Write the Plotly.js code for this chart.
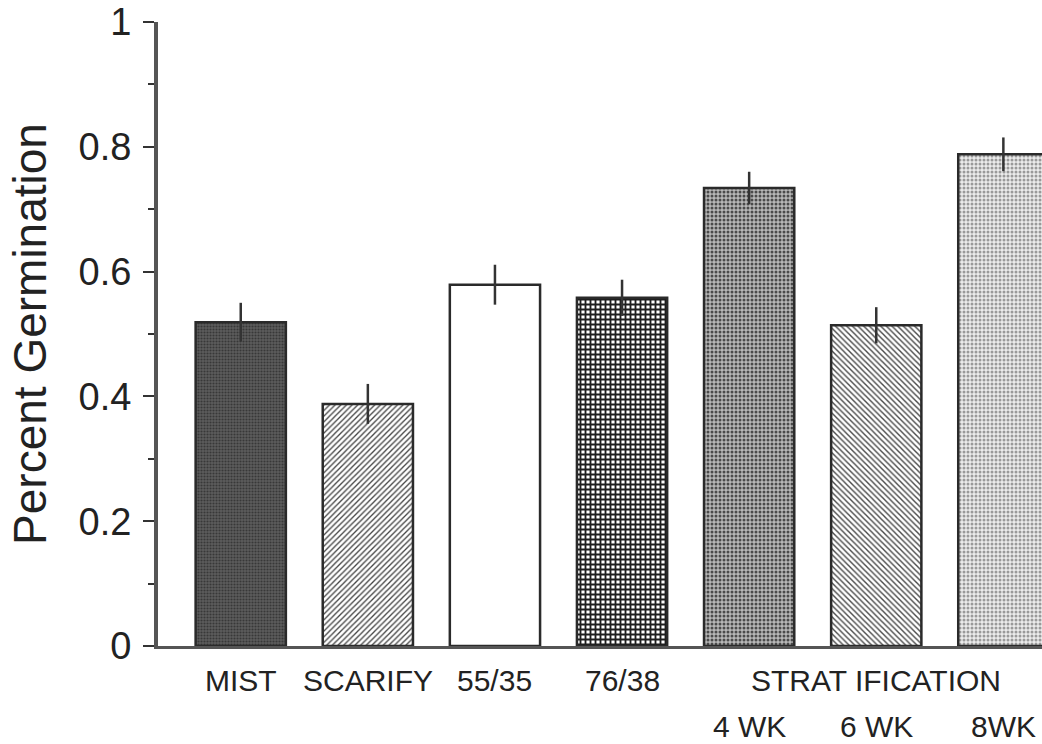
<!DOCTYPE html>
<html>
<head>
<meta charset="utf-8">
<script src="https://cdn.plot.ly/plotly-3.0.1.min.js"></script>
<style>html,body{margin:0;padding:0;background:#fff;}#chart{width:1042px;height:744px;}</style>
</head>
<body>
<div id="chart"></div>
<script>
// ---- data ----
const categories = ["MIST", "SCARIFY", "55/35", "76/38", "4WK", "6WK", "8WK"];
const germination = [0.519, 0.388, 0.579, 0.558, 0.734, 0.514, 0.788];
const stdErr = [0.031, 0.032, 0.032, 0.029, 0.026, 0.029, 0.027];
const labelRow1 = ["MIST", "SCARIFY", "55/35", "76/38", "", "STRAT IFICATION", ""];
const labelRow2 = ["", "", "", "", "4 WK", "6 WK", "8WK"];
const yTickVals = [0, 0.2, 0.4, 0.6, 0.8, 1];
const yTickText = ["0", "0.2", "0.4", "0.6", "0.8", "1"];

// ---- styles (one per bar) ----
const barStyles = [
  {shape: ".", fg: "#383838", bg: "#5c5c5c", size: 3, solidity: 0.4},
  {shape: "/", fg: "#444444", bg: "#ffffff", size: 4, solidity: 0.33},
  {shape: "",  fg: "#ffffff", bg: "#ffffff", size: 6, solidity: 0.3},
  {shape: "+", fg: "#1e1e1e", bg: "#ffffff", size: 5, solidity: 0.6},
  {shape: ".", fg: "#4a4a4a", bg: "#b8b8b8", size: 4, solidity: 0.45},
  {shape: "\\", fg: "#4a4a4a", bg: "#ffffff", size: 4, solidity: 0.35},
  {shape: ".", fg: "#999999", bg: "#ececec", size: 4, solidity: 0.45}
];

const regular = "Liberation Sans, Arial, sans-serif";

const traces = categories.map((c, i) => {
  const s = barStyles[i];
  const marker = {color: s.bg, line: {color: "#2a2a2a", width: 2.5}};
  if (s.shape) marker.pattern = {shape: s.shape, fgcolor: s.fg, bgcolor: s.bg, size: s.size, solidity: s.solidity, fillmode: "replace"};
  return {
    type: "bar",
    x: [c],
    y: [germination[i]],
    width: 0.71,
    marker: marker,
    error_y: {type: "data", array: [stdErr[i]], visible: true, color: "#333333", thickness: 2.5, width: 0},
    name: c
  };
});

const annotations = [];
categories.forEach((c, i) => {
  if (labelRow1[i]) annotations.push({xref: "x", yref: "paper", x: c, y: -0.0545, yanchor: "middle", xanchor: "center",
    text: labelRow1[i], showarrow: false, font: {family: regular, size: 30, color: "#222"}});
  if (labelRow2[i]) annotations.push({xref: "x", yref: "paper", x: c, y: -0.1298, yanchor: "middle", xanchor: "center",
    text: labelRow2[i], showarrow: false, font: {family: regular, size: 30, color: "#222"}});
});

const layout = {
  width: 1042, height: 744,
  margin: {l: 158, r: 0, t: 22, b: 98, pad: 0},
  paper_bgcolor: "#ffffff", plot_bgcolor: "#ffffff",
  showlegend: false,
  barmode: "overlay",
  xaxis: {
    type: "category",
    categoryorder: "array", categoryarray: categories,
    range: [-0.651, 6.304],
    showline: true, linecolor: "#555555", linewidth: 3,
    showgrid: false, zeroline: false, ticks: "", showticklabels: false, fixedrange: true
  },
  yaxis: {
    range: [0, 1],
    tickvals: yTickVals, ticktext: yTickText,
    showline: true, linecolor: "#555555", linewidth: 4,
    showgrid: false, zeroline: false,
    ticks: "outside", ticklen: 11, tickwidth: 2, tickcolor: "#333333",
    minor: {ticks: "outside", ticklen: 6, tickwidth: 2, tickcolor: "#333333", dtick: 0.1, tick0: 0, showgrid: false},
    tickfont: {family: regular, size: 38, color: "#222"},
    ticklabelstandoff: 4,
    title: {text: "Percent Germination", font: {family: regular, size: 46, color: "#222"}, standoff: 18},
    fixedrange: true
  },
  annotations: annotations
};

Plotly.newPlot("chart", traces, layout, {displayModeBar: false, staticPlot: true});
</script>
</body>
</html>
